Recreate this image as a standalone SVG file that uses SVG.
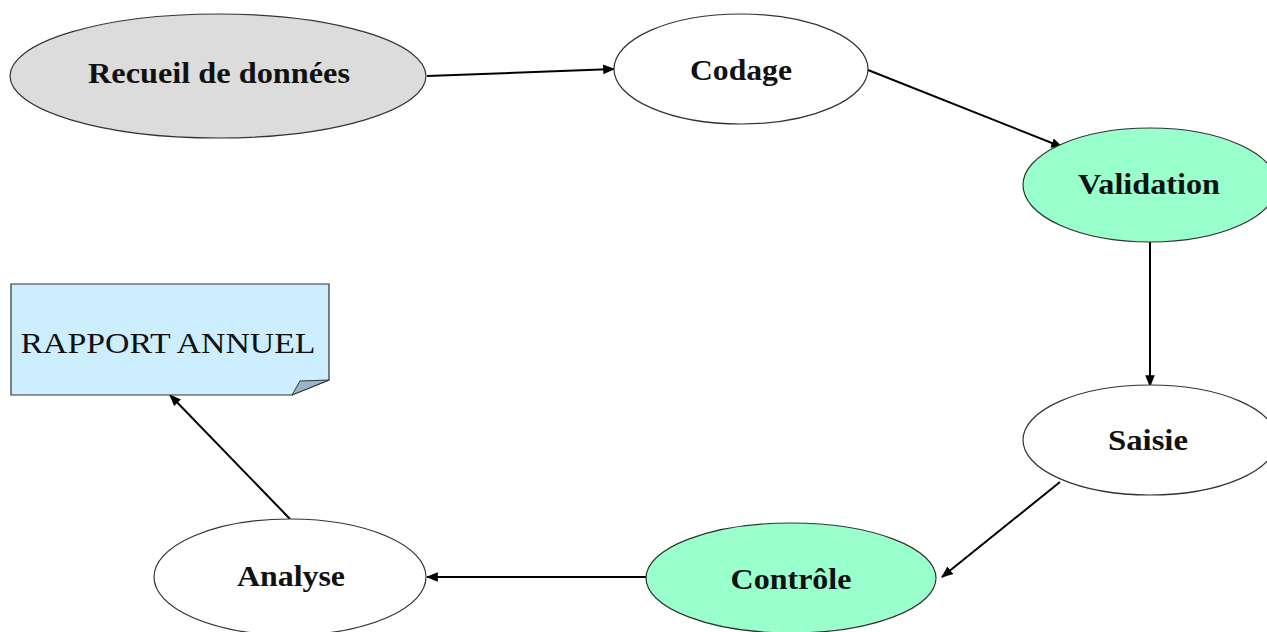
<svg xmlns="http://www.w3.org/2000/svg" width="1267" height="632" viewBox="0 0 1267 632">
<defs>
<style>
.n{stroke:#333;stroke-width:1.2}
.t{font-family:"Liberation Serif","Times New Roman",serif;font-weight:bold;font-size:30px;fill:#111;text-anchor:middle}
.r{font-family:"Liberation Serif","Times New Roman",serif;font-size:30px;fill:#111;text-anchor:middle}
.c{stroke:#000;stroke-width:2;fill:none;marker-end:url(#ah)}
</style>
<marker id="ah" viewBox="0 0 10 10" refX="9" refY="5" markerWidth="6" markerHeight="6" orient="auto" markerUnits="strokeWidth">
<path d="M0,1 L10,5 L0,9 Z" fill="#000"/>
</marker>
</defs>
<rect width="1267" height="632" fill="#fff"/>
<g id="connectors">
<line class="c" x1="427" y1="76" x2="614" y2="69"/>
<line class="c" x1="868" y1="70" x2="1062" y2="147"/>
<line class="c" x1="1150" y1="242" x2="1150" y2="386"/>
<line class="c" x1="1060" y1="482" x2="942" y2="577"/>
<line class="c" x1="646" y1="577" x2="427" y2="577"/>
<line class="c" x1="290" y1="519" x2="170" y2="395"/>
</g>
<g id="recueil">
<ellipse class="n" cx="218" cy="76" rx="208" ry="62" fill="#dcdcdc"/>
<text class="t" x="219" y="83" textLength="262" lengthAdjust="spacingAndGlyphs">Recueil de données</text>
</g>
<g id="codage">
<ellipse class="n" cx="741" cy="69" rx="127" ry="55" fill="#fff"/>
<text class="t" x="741" y="80" textLength="102" lengthAdjust="spacingAndGlyphs">Codage</text>
</g>
<g id="validation">
<ellipse class="n" cx="1150" cy="185" rx="127" ry="57" fill="#99ffcc"/>
<text class="t" x="1149" y="194" textLength="142" lengthAdjust="spacingAndGlyphs">Validation</text>
</g>
<g id="saisie">
<ellipse class="n" cx="1150" cy="440" rx="127" ry="55" fill="#fff"/>
<text class="t" x="1148" y="450" textLength="80" lengthAdjust="spacingAndGlyphs">Saisie</text>
</g>
<g id="controle">
<ellipse class="n" cx="791" cy="578" rx="145" ry="55" fill="#99ffcc"/>
<text class="t" x="791" y="589" textLength="121" lengthAdjust="spacingAndGlyphs">Contrôle</text>
</g>
<g id="analyse">
<ellipse class="n" cx="290" cy="577" rx="136" ry="58" fill="#fff"/>
<text class="t" x="291" y="586" textLength="108" lengthAdjust="spacingAndGlyphs">Analyse</text>
</g>
<g id="rapport">
<path class="n" d="M11,284 H329 V380 L292,395 H11 Z" fill="#cceeff"/>
<path d="M292,395 L300,381 L329,380 Z" fill="#9ab4c8" stroke="#333" stroke-width="1"/>
<text class="r" x="168" y="353" textLength="295" lengthAdjust="spacingAndGlyphs">RAPPORT ANNUEL</text>
</g>
</svg>
